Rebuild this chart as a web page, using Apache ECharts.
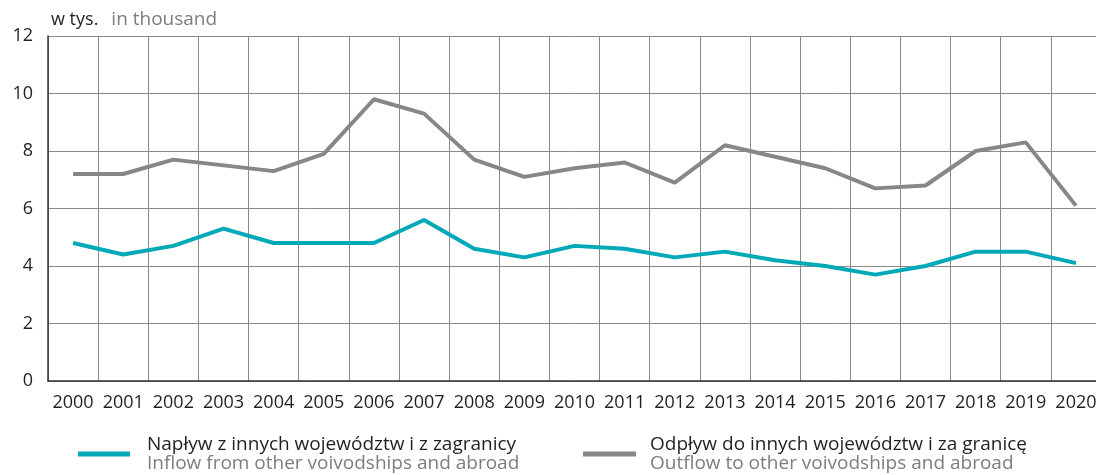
<!DOCTYPE html>
<html>
<head>
<meta charset="utf-8">
<script src="https://cdn.jsdelivr.net/npm/echarts@6/dist/echarts.min.js"></script>
<style>
  html, body { margin: 0; padding: 0; background: #fff; }
  #chart { width: 1096px; height: 475px; }
</style>
</head>
<body>
<div id="chart"></div>
<script>
// Years on the horizontal axis
const years = ['2000','2001','2002','2003','2004','2005','2006','2007','2008','2009','2010',
               '2011','2012','2013','2014','2015','2016','2017','2018','2019','2020'];

// Inflow from other voivodships and abroad (thousand persons)
const inflow = [4.8, 4.4, 4.7, 5.3, 4.8, 4.8, 4.8, 5.6, 4.6, 4.3, 4.7,
                4.6, 4.3, 4.5, 4.2, 4.0, 3.7, 4.0, 4.5, 4.5, 4.1];

// Outflow to other voivodships and abroad (thousand persons)
const outflow = [7.2, 7.2, 7.7, 7.5, 7.3, 7.9, 9.8, 9.3, 7.7, 7.1, 7.4,
                 7.6, 6.9, 8.2, 7.8, 7.4, 6.7, 6.8, 8.0, 8.3, 6.1];

// Y axis scale
const yMin = 0, yMax = 12, yStep = 2;

// Series names: Polish first line, English second line
const inflowName = 'Napływ z innych województw i z zagranicy';
const inflowNameEn = 'Inflow from other voivodships and abroad';
const outflowName = 'Odpływ do innych województw i za granicę';
const outflowNameEn = 'Outflow to other voivodships and abroad';

const FONT = '"Open Sans", "Noto Sans", sans-serif';
const DARK = '#231f20';
const GREY_TEXT = '#7d7d7d';
const CYAN = '#00a9b7';
const GREY_LINE = '#878787';

const englishOf = {};
englishOf[inflowName] = inflowNameEn;
englishOf[outflowName] = outflowNameEn;

function legendRich(gap) {
  return {
    pl: { fontFamily: FONT, fontSize: 19, color: DARK, lineHeight: 19, padding: [0, 0, 0, gap] },
    en: { fontFamily: FONT, fontSize: 19, color: GREY_TEXT, lineHeight: 19, padding: [0, 0, 0, gap] }
  };
}

function legendText(name) {
  return '{pl|' + name + '}\n{en|' + englishOf[name] + '}';
}

const chart = echarts.init(document.getElementById('chart'), null, { renderer: 'canvas' });

chart.setOption({
  animation: false,
  backgroundColor: '#ffffff',
  title: {
    left: 51,
    top: 10,
    padding: 0,
    text: '{a|w tys.}  {b|in thousand}',
    textStyle: {
      fontWeight: 'normal',
      rich: {
        a: { fontFamily: FONT, fontSize: 18, fontWeight: 'normal', color: DARK },
        b: { fontFamily: FONT, fontSize: 19, fontWeight: 'normal', color: GREY_TEXT, padding: [0, 0, 0, 3] }
      }
    }
  },
  // the plot runs past the right edge, so the last year is cut off
  grid: { left: 48, top: 36, width: 1053, bottom: 94, containLabel: false, outerBoundsMode: 'none' },
  legend: [
    {
      data: [inflowName],
      left: 78,
      top: 435,
      padding: 0,
      icon: 'rect',
      itemWidth: 52,
      itemHeight: 5,
      formatter: legendText,
      textStyle: { rich: legendRich(12) }
    },
    {
      data: [outflowName],
      left: 583,
      top: 435,
      padding: 0,
      icon: 'rect',
      itemWidth: 53,
      itemHeight: 5,
      formatter: legendText,
      textStyle: { rich: legendRich(9) }
    }
  ],
  xAxis: {
    type: 'category',
    data: years,
    boundaryGap: true,
    axisLine: { show: true, lineStyle: { color: '#333333', width: 1.5 } },
    axisTick: { show: false },
    axisLabel: { fontFamily: FONT, fontSize: 18, color: DARK, margin: 13, interval: 0 },
    splitLine: { show: true, lineStyle: { color: '#8a8a8a', width: 1 } }
  },
  yAxis: {
    type: 'value',
    min: yMin,
    max: yMax,
    interval: yStep,
    axisLine: { show: true, lineStyle: { color: '#333333', width: 1.5 } },
    axisTick: { show: false },
    axisLabel: { fontFamily: FONT, fontSize: 18, color: DARK, margin: 15 },
    splitLine: { show: true, lineStyle: { color: '#8a8a8a', width: 1 } }
  },
  series: [
    {
      name: inflowName,
      type: 'line',
      data: inflow,
      symbol: 'none',
      color: CYAN,
      lineStyle: { color: CYAN, width: 4 }
    },
    {
      name: outflowName,
      type: 'line',
      data: outflow,
      symbol: 'none',
      color: GREY_LINE,
      lineStyle: { color: GREY_LINE, width: 4 }
    }
  ]
});
</script>
</body>
</html>
